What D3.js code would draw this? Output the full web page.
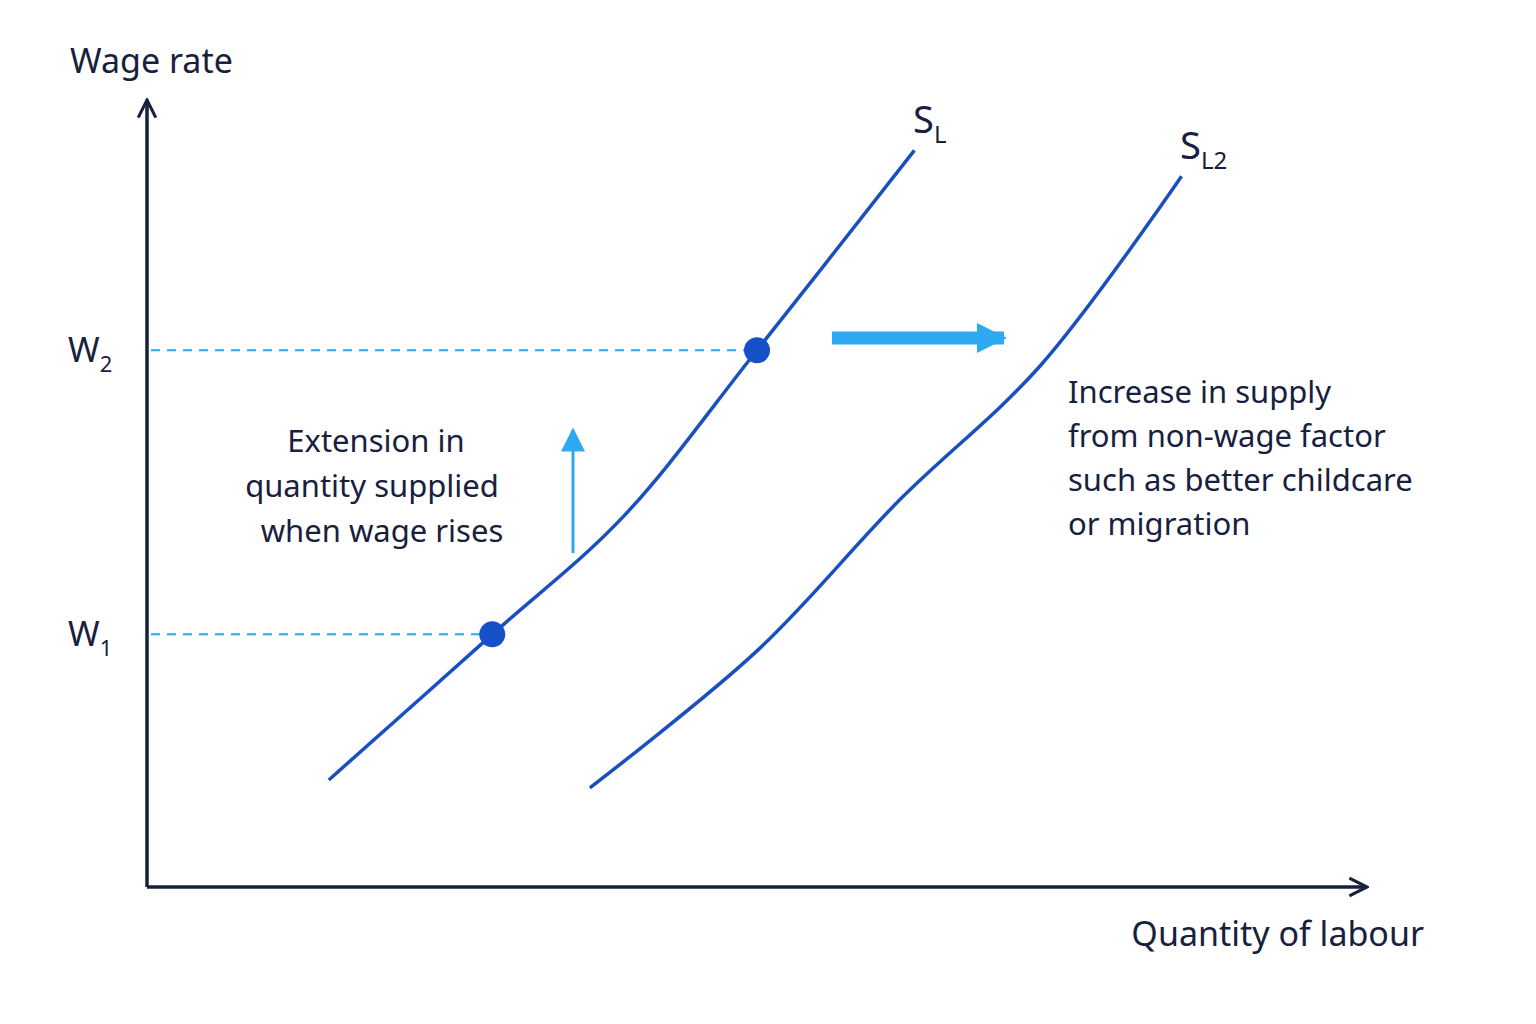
<!DOCTYPE html>
<html><head><meta charset="utf-8">
<script src="https://cdn.jsdelivr.net/npm/d3@7"></script>
<style>body{margin:0;background:#fff}text{font-family:"Noto Sans",sans-serif;fill:#17213d}</style>
</head><body><svg id="c" width="1536" height="1024"></svg>
<script>
var supply1 = [[14.9,13.6],[28.3,32.1],[39,47],[50,68.2],[62.9,93.6]];
var supply2 = [[36.3,12.6],[50,30],[61.7,49.2],[73.2,66.2],[84.8,90.3]];
var wages = [{label:"W", sub:"1", q:28.3, w:32.1},{label:"W", sub:"2", q:50, w:68.2}];
var extensionLines = ["Extension in","quantity supplied","when wage rises"];
var shiftLines = ["Increase in supply","from non-wage factor","such as better childcare","or migration"];

var svg = d3.select("#c");
var x = d3.scaleLinear().domain([0,100]).range([147,1367]);
var y = d3.scaleLinear().domain([0,100]).range([887,100]);
var navy = "#17213d", blue = "#1a4fc0", light = "#2ea8f0";

var defs = svg.append("defs");
function head(id, color, w, h) {
    defs.append("marker").attr("id", id).attr("viewBox","0 0 10 10").attr("refX",9).attr("refY",5)
        .attr("markerWidth",w).attr("markerHeight",h).attr("orient","auto").attr("markerUnits","userSpaceOnUse")
        .append("path").attr("d","M0,0L10,5L0,10Z").attr("fill",color);
}
defs.append("marker").attr("id","ax").attr("viewBox","0 0 10 10").attr("refX",9).attr("refY",5)
    .attr("markerWidth",22).attr("markerHeight",22).attr("orient","auto").attr("markerUnits","userSpaceOnUse")
    .append("path").attr("d","M1,1L9,5L1,9").attr("fill","none").attr("stroke",navy).attr("stroke-width",1.4);
head("big", light, 30, 44);
head("small", light, 26, 24);

// axes
svg.append("line").attr("x1",x(0)).attr("y1",y(0)).attr("x2",x(0)).attr("y2",y(100))
    .attr("stroke",navy).attr("stroke-width",3.5).attr("marker-end","url(#ax)");
svg.append("line").attr("x1",x(0)).attr("y1",y(0)).attr("x2",x(100)).attr("y2",y(0))
    .attr("stroke",navy).attr("stroke-width",3.5).attr("marker-end","url(#ax)");
svg.append("text").attr("x",70).attr("y",73).attr("font-size",34).text("Wage rate");
svg.append("text").attr("x",1424).attr("y",946).attr("text-anchor","end").attr("font-size",34).text("Quantity of labour");

// dashed wage guides
wages.forEach(function(d){
    svg.append("line").attr("x1",x(0)+4).attr("x2",x(d.q)).attr("y1",y(d.w)).attr("y2",y(d.w))
        .attr("stroke",light).attr("stroke-width",2).attr("stroke-dasharray","9,7");
    var t = svg.append("text").attr("x",68).attr("y",y(d.w)+12).attr("font-size",34).text(d.label);
    t.append("tspan").attr("dy",10).attr("font-size",22).text(d.sub);
});

var line = d3.line().x(function(d){return x(d[0]);}).y(function(d){return y(d[1]);}).curve(d3.curveCatmullRom);
[supply1, supply2].forEach(function(s){
    svg.append("path").attr("d",line(s)).attr("fill","none").attr("stroke",blue).attr("stroke-width",3.5);
});
svg.selectAll("circle").data(wages).enter().append("circle")
    .attr("cx",function(d){return x(d.q);}).attr("cy",function(d){return y(d.w);}).attr("r",13).attr("fill","#1550c8");

var l1 = svg.append("text").attr("x",913).attr("y",133).attr("font-size",38).text("S");
l1.append("tspan").attr("dy",10).attr("font-size",24).text("L");
var l2 = svg.append("text").attr("x",1180).attr("y",159).attr("font-size",38).text("S");
l2.append("tspan").attr("dy",10).attr("font-size",24).text("L2");

// shift arrow and extension arrow
svg.append("line").attr("x1",832).attr("x2",1004).attr("y1",338).attr("y2",338)
    .attr("stroke",light).attr("stroke-width",13).attr("marker-end","url(#big)");
svg.append("line").attr("x1",573).attr("x2",573).attr("y1",553).attr("y2",430)
    .attr("stroke",light).attr("stroke-width",3).attr("marker-end","url(#small)");

svg.append("g").selectAll("text").data(extensionLines).enter().append("text")
    .attr("x",[376,372,382][0]).attr("y",function(d,i){return 452+i*45;})
    .attr("x",function(d,i){return [376,372,382][i];})
    .attr("text-anchor","middle").attr("font-size",31).text(function(d){return d;});
svg.append("g").selectAll("text").data(shiftLines).enter().append("text")
    .attr("x",1068).attr("y",function(d,i){return 403+i*44;})
    .attr("font-size",31).text(function(d){return d;});
</script></body></html>
